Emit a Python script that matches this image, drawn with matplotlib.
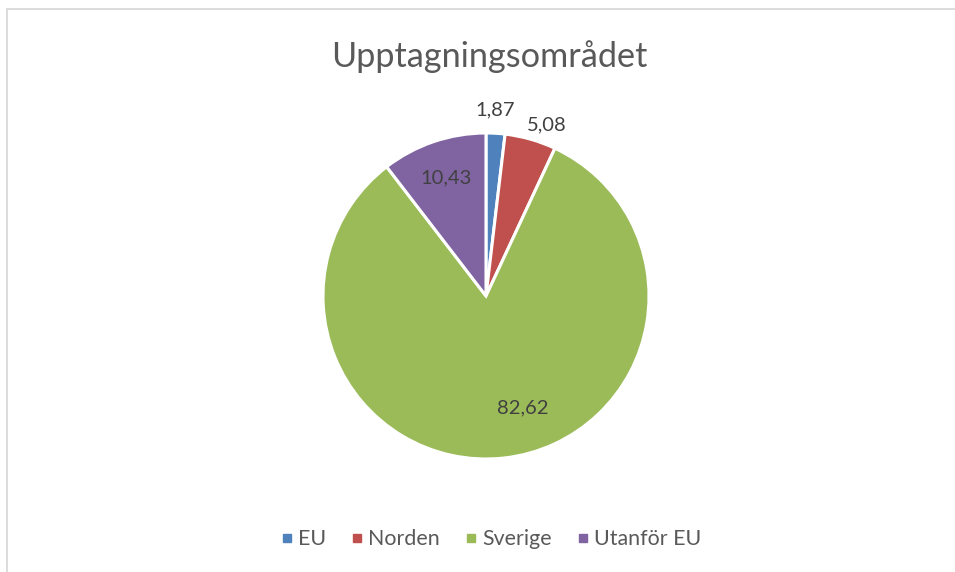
import numpy as np
import matplotlib
matplotlib.use("Agg")
import matplotlib.pyplot as plt
from matplotlib.lines import Line2D
from matplotlib.patches import Rectangle
from matplotlib.transforms import Affine2D

categories = ["EU", "Norden", "Sverige", "Utanför EU"]
values = [1.87, 5.08, 82.62, 10.43]
labels = ["1,87", "5,08", "82,62", "10,43"]
colors = ["#4F81BD", "#C0504D", "#9BBB59", "#8064A2"]
title = "Upptagningsområdet"

FONT = ['Lato', 'DejaVu Sans']
plt.rcParams['font.family'] = FONT

W, H = 955, 572
fig = plt.figure(figsize=(W / 100, H / 100), dpi=100)
fig.patch.set_facecolor("white")
renderer = fig.canvas.get_renderer()


def fit_size(s, target_px, base=12.0):
    t = fig.text(0, 0, s, fontsize=base)
    w = t.get_window_extent(renderer).width
    t.remove()
    return base * target_px / w


# pixel transform (origin top-left)
px = Affine2D().scale(1.0 / W, -1.0 / H).translate(0, 1) + fig.transFigure

# chart border
fig.add_artist(Rectangle((6.5 / W, -0.1), 2, 1 - 8.5 / H + 0.1, transform=fig.transFigure,
                         fill=False, edgecolor="#D9D9D9", linewidth=1.3))

cx, cy, r = 486, 296, 163
ax = fig.add_axes([(cx - r) / W, 1 - (cy + r) / H, 2 * r / W, 2 * r / H])
wedges, _ = ax.pie(values, colors=colors, startangle=90, counterclock=False,
                   wedgeprops=dict(edgecolor="white", linewidth=2.2))
ax.set_xlim(-1, 1)
ax.set_ylim(-1, 1)
ax.set_aspect("equal", adjustable="box")
ax.axis("off")

# data labels: (dx, dy) offsets from pie centre in pixels (label centre x, baseline y)
label_offsets = [(9, -181), (61, -166), (37, 117), (-40, -113)]
label_widths = [36, 41, 52, 52]
lab_size = np.mean([fit_size(s, w) for s, w in zip(labels, label_widths)])
for s, (dx, dy) in zip(labels, label_offsets):
    fig.text(cx + dx, cy + dy, s, transform=px, ha="center", va="baseline",
             fontsize=lab_size, color="#404040")

title_size = fit_size(title, 315)
fig.text(489, 67, title, transform=px, ha="center", va="baseline",
         fontsize=title_size, color="#595959")

leg_size = np.mean([fit_size("Norden", 72), fit_size("Utanför EU", 106), fit_size("Sverige", 69)])
em = leg_size * 100 / 72
handles = [Line2D([0], [0], marker="s", linestyle="none", markersize=8 * 0.72,
                  markerfacecolor=c, markeredgecolor=c) for c in colors]
leg = fig.legend(handles, categories, loc="center", bbox_to_anchor=(492 / W, 1 - 539 / H),
                 ncol=4, frameon=False, fontsize=leg_size, labelcolor="#595959",
                 handletextpad=7 / em, columnspacing=27 / em, handlelength=8 / em,
                 borderpad=0, borderaxespad=0)

fig.savefig("out.png", dpi=100)
